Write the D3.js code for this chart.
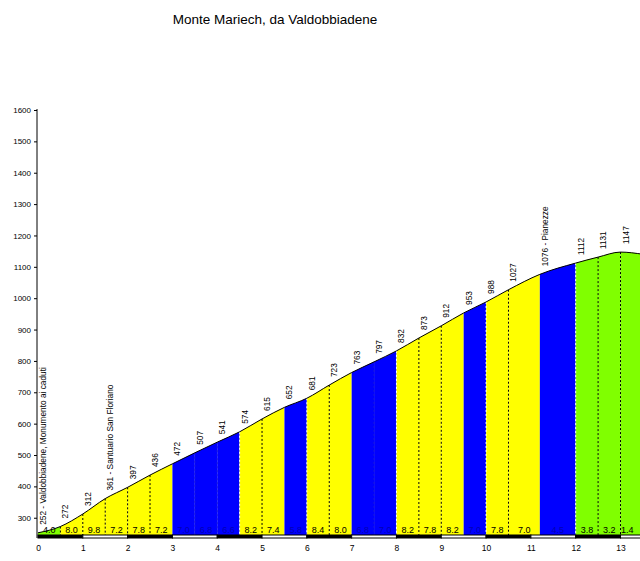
<!DOCTYPE html>
<html>
<head>
<meta charset="utf-8">
<script src="https://cdn.jsdelivr.net/npm/d3@7"></script>
<style>
  html, body { margin: 0; padding: 0; background: #ffffff; }
  svg { display: block; font-family: "Liberation Sans", Arial, sans-serif; }
</style>
</head>
<body>
<svg id="chart" width="640" height="561"></svg>
<script>
// ---- data ----
const title = "Monte Mariech, da Valdobbiadene";
const kms = [0, 0.5, 1, 1.5, 2, 2.5, 3, 3.5, 4, 4.5, 5, 5.5, 6, 6.5, 7, 7.5, 8, 8.5, 9, 9.5, 10, 10.5, 11.2, 12, 12.5, 13, 13.5];
const elevations = [252, 272, 312, 361, 397, 436, 472, 507, 541, 574, 615, 652, 681, 723, 763, 797, 832, 873, 912, 953, 988, 1027, 1076, 1112, 1131, 1147, 1140];
const pointLabels = ["252 - Valdobbiadene, Monumento ai caduti", "272", "312", "361 - Santuario San Floriano", "397", "436", "472", "507", "541", "574", "615", "652", "681", "723", "763", "797", "832", "873", "912", "953", "988", "1027", "1076 - Pianezze", "1112", "1131", "1147", ""];
const gradients = ["4.0", "8.0", "9.8", "7.2", "7.8", "7.2", "7.0", "6.8", "6.6", "8.2", "7.4", "5.8", "8.4", "8.0", "6.8", "7.0", "8.2", "7.8", "8.2", "7.0", "7.8", "7.0", "4.5", "3.8", "3.2", "1.4"];
const classes = ["G", "Y", "Y", "Y", "Y", "Y", "B", "B", "B", "Y", "Y", "B", "Y", "Y", "B", "B", "Y", "Y", "Y", "B", "Y", "Y", "B", "G", "G", "G"];
const yTicks = [300, 400, 500, 600, 700, 800, 900, 1000, 1100, 1200, 1300, 1400, 1500, 1600];
const xTicks = [0, 1, 2, 3, 4, 5, 6, 7, 8, 9, 10, 11, 12, 13];

const fillColor = { G: "#80ff00", Y: "#ffff00", B: "#0000ff" };
const textColor = { G: "#000000", Y: "#000000", B: "#0000b4" };

// ---- layout ----
const W = 640, H = 561;
const plotBottom = 535, plotTop = 110, axisX = 37;
const x = d3.scaleLinear().domain([0, 13]).range([38, 620.5]);
const y = d3.scaleLinear().domain([245, 1600]).range([plotBottom, plotTop]);

const svg = d3.select("#chart");
const pts = kms.map((k, i) => ({ k, e: elevations[i] }));

const area = d3.area().curve(d3.curveMonotoneX)
  .x(d => x(d.k)).y0(plotBottom).y1(d => y(d.e));
const line = d3.line().curve(d3.curveMonotoneX)
  .x(d => x(d.k)).y(d => y(d.e));

// title
svg.append("text").attr("x", 275).attr("y", 24).attr("text-anchor", "middle")
  .attr("font-size", 13.5).attr("fill", "#000").text(title);

// segment fills via clip paths
const defs = svg.append("defs");
classes.forEach((c, i) => {
  const x0 = x(kms[i]), x1 = x(kms[i + 1]);
  defs.append("clipPath").attr("id", "seg" + i)
    .append("rect").attr("x", x0).attr("y", 0).attr("width", x1 - x0).attr("height", H);
  svg.append("path").datum(pts).attr("d", area)
    .attr("fill", fillColor[c]).attr("clip-path", `url(#seg${i})`);
});

// dotted boundary lines
for (let i = 1; i < kms.length - 1; i++) {
  const left = classes[i - 1], right = classes[i];
  let col = null;
  if (left === "B" && right === "B") col = "#1c1cd8";
  else if (left === "B") col = "#ffffff";
  else if (right === "B") col = null;
  else col = "#000000";
  if (!col) continue;
  svg.append("line")
    .attr("x1", x(kms[i])).attr("x2", x(kms[i]))
    .attr("y1", y(elevations[i])).attr("y2", plotBottom)
    .attr("stroke", col).attr("stroke-width", 1).attr("stroke-dasharray", "2,2");
}

// profile line
svg.append("path").datum(pts).attr("d", line)
  .attr("fill", "none").attr("stroke", "#000").attr("stroke-width", 1);

// gradient labels
classes.forEach((c, i) => {
  const x0 = x(kms[i]), x1 = Math.min(x(kms[i + 1]), W - 6);
  svg.append("text").attr("x", (x0 + x1) / 2).attr("y", 533)
    .attr("text-anchor", "middle").attr("font-size", 9)
    .attr("fill", textColor[c]).text(gradients[i]);
});

// elevation labels
pointLabels.forEach((t, i) => {
  if (!t) return;
  const px = x(kms[i]) + 8, py = y(elevations[i]) - 8;
  svg.append("text").attr("transform", `translate(${px},${py}) rotate(-90)`)
    .attr("font-size", 8.3).attr("fill", "#000").text(t);
});

// km strip
for (let k = 0; k < 14; k++) {
  const x0 = x(k), x1 = Math.min(x(k + 1), W + 5);
  svg.append("rect").attr("x", x0).attr("y", plotBottom).attr("width", x1 - x0).attr("height", 3)
    .attr("fill", k % 2 === 0 ? "#000" : "#fff").attr("stroke", "#000").attr("stroke-width", 1);
}

// y axis
const yAxis = d3.axisLeft(y).tickValues(yTicks).tickSize(3).tickPadding(3).tickFormat(d3.format("d"));
const gy = svg.append("g").attr("transform", `translate(${axisX},0)`).call(yAxis);
gy.select(".domain").remove();
gy.append("line").attr("x1", 0).attr("x2", 0).attr("y1", plotTop - 1).attr("y2", plotBottom + 3).attr("stroke", "#000");
gy.selectAll("text").attr("font-size", 8).attr("font-family", "Liberation Sans, Arial, sans-serif").attr("fill", "#000");
gy.selectAll(".tick line").attr("stroke", "#000");

// x axis labels
const xAxis = d3.axisBottom(x).tickValues(xTicks).tickSize(0).tickPadding(10).tickFormat(d3.format("d"));
const gx = svg.append("g").attr("transform", `translate(0,${plotBottom})`).call(xAxis);
gx.select(".domain").remove();
gx.selectAll("text").attr("font-size", 8.5).attr("font-family", "Liberation Sans, Arial, sans-serif").attr("fill", "#000");
</script>
</body>
</html>
